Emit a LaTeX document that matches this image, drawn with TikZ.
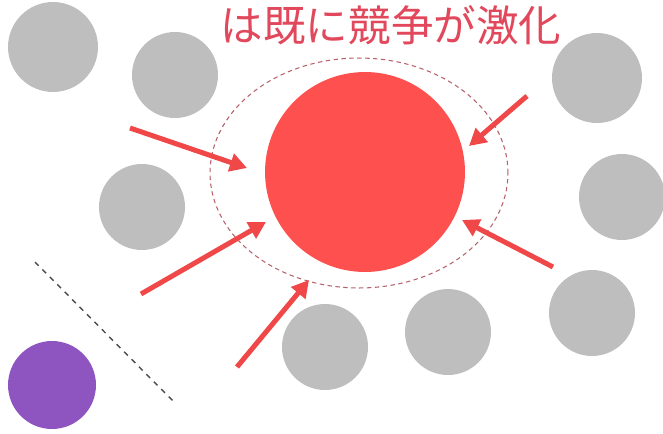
\documentclass[tikz,border=0pt]{standalone}
\usepackage{fontspec}
\newfontfamily\jpfont{Noto Sans CJK JP}
\usetikzlibrary{arrows.meta,shapes.geometric}
\definecolor{hotred}{RGB}{255,80,80}
\definecolor{arrowred}{RGB}{240,72,72}
\definecolor{titlered}{RGB}{226,72,92}
\definecolor{rivalgray}{RGB}{190,190,190}
\definecolor{newpurple}{RGB}{142,84,192}

\begin{document}
\begin{tikzpicture}[x=0.02cm, y=-0.02cm]
    \tikzstyle{rival} = [circle, fill=rivalgray, inner sep=0pt, minimum size=1.72cm]
    \tikzstyle{push} = [line width=0.1cm, arrowred, -{Triangle[length=0.34cm,width=0.36cm]}]

    \useasboundingbox (0,0) rectangle (663,433);

    % title
    \node (title) at (391,25) [text=titlered, font=\jpfont\fontsize{24.2}{24}\selectfont] {は既に競争が激化};

    % market
    \node (zone) at (359,173) [ellipse, draw=titlered!55!gray, dash pattern=on 2.5pt off 2pt, line width=0.6pt, minimum width=5.96cm, minimum height=4.6cm] {};
    \node (hot) at (365,172) [circle, fill=hotred, inner sep=0pt, minimum size=4cm] {};

    % competitors
    \node (r1) at (53,47) [rival, minimum size=1.8cm] {};
    \node (r2) at (175,75) [rival] {};
    \node (r3) at (142,207) [rival] {};
    \node (r4) at (597,78) [rival, minimum size=1.8cm] {};
    \node (r5) at (622,197) [rival] {};
    \node (r6) at (592,313) [rival] {};
    \node (r7) at (448,332) [rival] {};
    \node (r8) at (325,347) [rival] {};

    % newcomer
    \node (newbie) at (52,385) [circle, fill=newpurple, inner sep=0pt, minimum size=1.76cm] {};
    \coordinate (lineA) at (35,262);
    \coordinate (lineB) at (175,403);
    \draw [dashed, line width=0.8pt, black!70] (lineA) -- (lineB);

    % pressure
    \coordinate (p1) at (130,128);  \coordinate (q1) at (247,168);
    \coordinate (p2) at (527,96);   \coordinate (q2) at (469,146);
    \coordinate (p3) at (141,294);  \coordinate (q3) at (266,222);
    \coordinate (p4) at (553,267);  \coordinate (q4) at (462,220);
    \coordinate (p5) at (237,367);  \coordinate (q5) at (309,280);
    \draw [push] (p1) -- (q1);
    \draw [push] (p2) -- (q2);
    \draw [push] (p3) -- (q3);
    \draw [push] (p4) -- (q4);
    \draw [push] (p5) -- (q5);
\end{tikzpicture}
\end{document}
